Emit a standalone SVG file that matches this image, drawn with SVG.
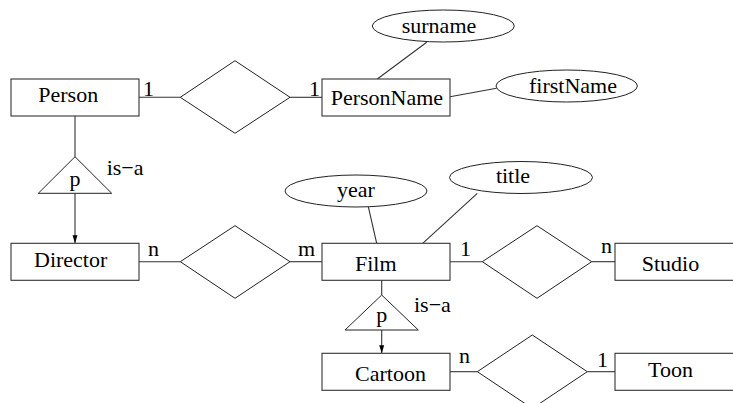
<svg xmlns="http://www.w3.org/2000/svg" width="733" height="403" viewBox="0 0 733 403">
<style>
.box{fill:#fff;stroke:#333;stroke-width:1.1}
.shape{fill:#fff;stroke:#222;stroke-width:1}
.ln{fill:none;stroke:#333;stroke-width:1.1}
text{font-family:"Liberation Serif","Times New Roman",serif;font-size:22px;fill:#000}
.m{text-anchor:middle}
</style>
<defs>
<marker id="ah" viewBox="0 0 8 10" refX="8" refY="5" markerWidth="8" markerHeight="10" markerUnits="userSpaceOnUse" orient="auto">
<path d="M0,2.5 L8,5 L0,7.5 Z" fill="#000"/>
</marker>
</defs>
<rect width="733" height="403" fill="#fff"/>
<g id="connectors">
<line class="ln" x1="139" y1="97.3" x2="180.3" y2="97.3"/>
<line class="ln" x1="290" y1="97.3" x2="322" y2="97.3"/>
<line class="ln" x1="426.7" y1="42.3" x2="377.3" y2="79"/>
<line class="ln" x1="450" y1="96.7" x2="496.5" y2="88.3"/>
<line class="ln" x1="75" y1="116" x2="75" y2="156.7"/>
<line class="ln" x1="75" y1="193.3" x2="75" y2="243.3" marker-end="url(#ah)"/>
<line class="ln" x1="139" y1="261.7" x2="180.3" y2="261.7"/>
<line class="ln" x1="290" y1="261.7" x2="322" y2="261.7"/>
<line class="ln" x1="368.3" y1="206.7" x2="376.7" y2="243.3"/>
<line class="ln" x1="477.3" y1="193.3" x2="422.7" y2="243.3"/>
<line class="ln" x1="450" y1="261.7" x2="482.3" y2="261.7"/>
<line class="ln" x1="591.7" y1="261.7" x2="615" y2="261.7"/>
<line class="ln" x1="381.7" y1="280" x2="381.7" y2="295"/>
<line class="ln" x1="381.7" y1="330" x2="381.7" y2="353.3" marker-end="url(#ah)"/>
<line class="ln" x1="450" y1="371.7" x2="477.3" y2="371.7"/>
<line class="ln" x1="587.3" y1="371.7" x2="615" y2="371.7"/>
<text x="143" y="96">1</text>
<text x="309" y="96">1</text>
<text x="148" y="256">n</text>
<text x="298" y="256">m</text>
<text x="460" y="256">1</text>
<text x="601" y="252.7">n</text>
<text x="459" y="363.3">n</text>
<text x="597" y="366.7">1</text>
</g>
<g id="Person"><rect class="box" x="11" y="79" width="128" height="37"/><text x="38.3" y="101.7">Person</text></g>
<g id="rel-Person-PersonName"><polygon class="shape" points="180.3,97.3 235,60.7 290,97.3 235,133.3"/></g>
<g id="PersonName"><rect class="box" x="322" y="79" width="128" height="37"/><text x="330.7" y="105">PersonName</text></g>
<g id="surname"><ellipse class="shape" cx="443.3" cy="26" rx="71" ry="16"/><text class="m" x="439" y="32.5">surname</text></g>
<g id="firstName"><ellipse class="shape" cx="566.7" cy="86" rx="70.7" ry="16"/><text class="m" x="573" y="92.7">firstName</text></g>
<g id="isa-Person"><polygon class="shape" points="75,156.7 111.7,193.3 38.3,193.3"/><text class="m" x="75" y="186">p</text><text x="106.7" y="175">is−a</text></g>
<g id="Director"><rect class="box" x="11" y="243.3" width="128" height="37"/><text x="34" y="267.3">Director</text></g>
<g id="rel-Director-Film"><polygon class="shape" points="180.3,261.7 235,225.7 290,261.7 235,298.3"/></g>
<g id="year"><ellipse class="shape" cx="356" cy="191" rx="71" ry="16"/><text class="m" x="356" y="196.7">year</text></g>
<g id="title"><ellipse class="shape" cx="521" cy="177.5" rx="71.5" ry="16"/><text class="m" x="513" y="183.3">title</text></g>
<g id="Film"><rect class="box" x="322" y="243.3" width="128" height="37"/><text x="355" y="270.7">Film</text></g>
<g id="rel-Film-Studio"><polygon class="shape" points="482.3,261.7 537,225.7 591.7,261.7 537,298.3"/></g>
<g id="Studio"><rect class="box" x="615" y="243.3" width="128" height="37"/><text x="641.7" y="270.7">Studio</text></g>
<g id="isa-Film"><polygon class="shape" points="381.7,295 418.3,330 345,330"/><text class="m" x="381.7" y="322">p</text><text x="414" y="311.7">is−a</text></g>
<g id="Cartoon"><rect class="box" x="322" y="353.3" width="128" height="37"/><text x="355" y="380.5">Cartoon</text></g>
<g id="rel-Cartoon-Toon"><polygon class="shape" points="477.3,371.7 532.3,335 587.3,371.7 532.3,408.4"/></g>
<g id="Toon"><rect class="box" x="615" y="353.3" width="128" height="37"/><text x="648" y="376.5">Toon</text></g>
</svg>
